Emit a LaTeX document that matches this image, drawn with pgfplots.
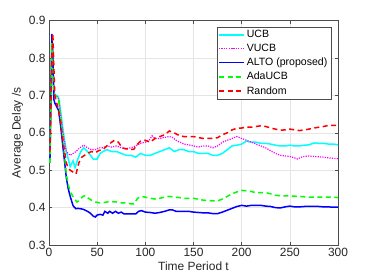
\documentclass[border=0pt]{standalone}
\usepackage{pgfplots}
\pgfplotsset{compat=1.18}
\usepackage{fontspec}
\setmainfont{Liberation Sans}
\definecolor{mcyan}{RGB}{0,255,255}
\definecolor{mmagenta}{RGB}{255,0,255}
\definecolor{mblue}{RGB}{0,0,255}
\definecolor{mgreen}{RGB}{0,255,0}
\definecolor{mred}{RGB}{255,0,0}
\begin{document}
\begin{tikzpicture}
\useasboundingbox (-49bp,-35bp) rectangle (325bp,245bp);
\begin{axis}[
  scale only axis,
  width=289bp, height=224.3bp,
  xmin=0, xmax=300, ymin=0.3, ymax=0.9,
  xtick={0,50,...,300},
  ytick={0.3,0.4,0.5,0.6,0.7,0.8,0.9},
  yticklabel style={/pgf/number format/fixed,/pgf/number format/fixed zerofill,/pgf/number format/precision=1},
  /pgf/number format/assume math mode=true,
  tick label style={font=\fontsize{12}{14}\selectfont, text=black!85},
  label style={font=\fontsize{12}{14}\selectfont, text=black!85},
  xlabel={Time Period t},
  ylabel={Average Delay /s},
  xlabel style={yshift=1.5bp},
  ylabel style={yshift=-1bp},
  tick align=inside,
  major tick length=3bp,
  tick style={black!70, line width=0.5bp},
  axis line style={black!70, line width=0.5bp},
  grid=major,
  grid style={black!10, line width=0.5bp},
  legend style={at={(0.976,0.973)}, anchor=north east, font=\fontsize{10.6}{12.5}\selectfont,
    draw=black!70, inner sep=1.5bp, row sep=1bp,
    cells={anchor=west}},
  legend image code/.code={\draw[#1, line width=1.5bp] plot coordinates {(0bp,0bp) (12.5bp,0bp) (25bp,0bp)};},
]
\addplot[mcyan, line width=1.5bp] coordinates {
(1,0.52)(2,0.70)(3,0.86)(4,0.80)(5,0.72)(6,0.70)(8,0.70)(10,0.695)(12,0.66)(15,0.60)(18,0.55)(20,0.53)(22,0.51)(24,0.52)(25,0.525)(27,0.507)(30,0.53)(33,0.55)(36,0.56)(40,0.55)(43,0.54)(46,0.53)(50,0.53)(53,0.545)(56,0.55)(60,0.555)(65,0.55)(70,0.55)(75,0.545)(80,0.54)(85,0.54)(90,0.535)(95,0.545)(100,0.54)(105,0.54)(110,0.545)(115,0.55)(120,0.555)(125,0.56)(130,0.55)(135,0.555)(140,0.555)(145,0.55)(150,0.55)(155,0.545)(160,0.545)(165,0.545)(170,0.54)(175,0.54)(180,0.545)(185,0.555)(190,0.565)(195,0.567)(200,0.57)(205,0.578)(210,0.575)(215,0.575)(220,0.572)(225,0.572)(230,0.57)(235,0.567)(240,0.565)(245,0.565)(250,0.567)(255,0.565)(260,0.565)(265,0.567)(270,0.568)(275,0.573)(280,0.572)(285,0.572)(290,0.57)(295,0.57)(300,0.568)
};
\addlegendentry{UCB}
\addplot[mmagenta, line width=1.2bp, dash pattern=on 1.2bp off 1.2bp] coordinates {
(1,0.52)(2,0.70)(3,0.86)(4,0.80)(5,0.72)(6,0.70)(8,0.70)(10,0.69)(12,0.65)(15,0.59)(18,0.55)(20,0.545)(22,0.54)(25,0.545)(28,0.55)(32,0.56)(36,0.567)(40,0.56)(44,0.555)(48,0.555)(52,0.56)(56,0.56)(60,0.565)(65,0.562)(70,0.565)(75,0.56)(80,0.558)(85,0.56)(90,0.565)(95,0.572)(100,0.575)(104,0.58)(107,0.592)(110,0.585)(115,0.585)(120,0.588)(125,0.59)(128,0.588)(132,0.58)(136,0.575)(140,0.57)(145,0.568)(150,0.565)(155,0.562)(160,0.565)(165,0.565)(170,0.56)(175,0.565)(180,0.575)(185,0.58)(190,0.585)(195,0.59)(200,0.585)(205,0.58)(210,0.575)(215,0.57)(220,0.565)(225,0.56)(230,0.552)(235,0.545)(240,0.54)(245,0.538)(250,0.537)(255,0.533)(258,0.53)(262,0.535)(265,0.537)(270,0.538)(275,0.537)(280,0.536)(285,0.535)(290,0.533)(295,0.532)(300,0.531)
};
\addlegendentry{VUCB}
\addplot[mblue, line width=1.5bp] coordinates {
(1,0.53)(2,0.70)(3,0.865)(4,0.80)(5,0.69)(6,0.68)(8,0.67)(10,0.66)(12,0.62)(15,0.55)(18,0.48)(20,0.45)(22,0.43)(25,0.405)(28,0.397)(30,0.398)(33,0.397)(36,0.395)(40,0.39)(43,0.385)(46,0.377)(48,0.375)(50,0.38)(53,0.382)(56,0.38)(58,0.39)(61,0.385)(63,0.39)(66,0.385)(69,0.39)(72,0.385)(75,0.388)(78,0.383)(82,0.383)(86,0.383)(90,0.383)(93,0.39)(96,0.392)(100,0.388)(105,0.387)(110,0.385)(115,0.387)(120,0.39)(125,0.394)(128,0.394)(132,0.39)(136,0.39)(140,0.39)(145,0.39)(150,0.388)(155,0.387)(160,0.386)(165,0.386)(170,0.384)(175,0.384)(180,0.388)(185,0.393)(190,0.398)(195,0.403)(200,0.406)(205,0.404)(210,0.406)(215,0.406)(220,0.406)(225,0.404)(230,0.403)(235,0.4)(240,0.399)(245,0.402)(250,0.404)(255,0.402)(260,0.402)(265,0.403)(270,0.403)(275,0.403)(280,0.403)(285,0.402)(290,0.402)(295,0.401)(300,0.401)
};
\addlegendentry{ALTO (proposed)}
\addplot[mgreen, line width=1.5bp, dash pattern=on 5bp off 3.5bp] coordinates {
(1,0.52)(2,0.69)(3,0.84)(4,0.78)(5,0.71)(6,0.70)(8,0.697)(10,0.69)(12,0.64)(15,0.57)(18,0.49)(20,0.46)(23,0.438)(26,0.425)(29,0.415)(32,0.42)(35,0.43)(38,0.432)(41,0.425)(44,0.42)(48,0.415)(52,0.413)(56,0.413)(60,0.415)(65,0.416)(70,0.415)(75,0.413)(80,0.413)(85,0.41)(88,0.41)(92,0.425)(96,0.43)(100,0.428)(105,0.425)(110,0.423)(115,0.425)(120,0.428)(125,0.43)(130,0.428)(135,0.427)(140,0.425)(150,0.425)(160,0.42)(170,0.418)(175,0.418)(180,0.423)(185,0.43)(190,0.437)(195,0.442)(200,0.446)(205,0.445)(210,0.443)(215,0.44)(220,0.44)(225,0.44)(230,0.437)(235,0.433)(240,0.432)(250,0.431)(260,0.43)(270,0.428)(280,0.428)(290,0.428)(300,0.427)
};
\addlegendentry{AdaUCB}
\addplot[mred, line width=1.5bp, dash pattern=on 5bp off 3.5bp] coordinates {
(1,0.55)(2,0.68)(3,0.80)(4,0.865)(5,0.78)(6,0.70)(8,0.68)(10,0.66)(12,0.63)(15,0.57)(18,0.52)(20,0.505)(22,0.50)(25,0.495)(28,0.49)(31,0.52)(34,0.535)(37,0.54)(40,0.545)(44,0.55)(48,0.547)(52,0.553)(56,0.555)(60,0.565)(65,0.575)(68,0.58)(72,0.575)(76,0.56)(80,0.557)(84,0.556)(88,0.556)(92,0.57)(95,0.578)(100,0.58)(105,0.575)(110,0.585)(115,0.59)(120,0.595)(125,0.605)(130,0.6)(135,0.593)(140,0.59)(150,0.59)(160,0.585)(170,0.585)(175,0.587)(180,0.595)(185,0.6)(190,0.608)(195,0.612)(200,0.613)(205,0.615)(210,0.615)(215,0.617)(220,0.619)(225,0.617)(230,0.613)(235,0.61)(240,0.607)(245,0.608)(250,0.61)(255,0.608)(260,0.606)(265,0.608)(270,0.61)(275,0.613)(280,0.615)(285,0.617)(290,0.62)(295,0.62)(300,0.62)
};
\addlegendentry{Random}
\end{axis}
\end{tikzpicture}
\end{document}
